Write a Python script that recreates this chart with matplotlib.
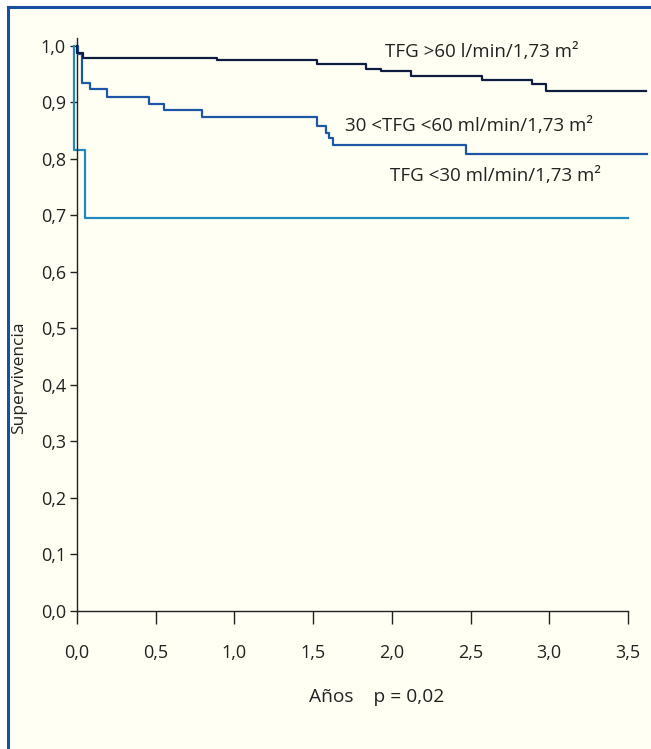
import numpy as np
import matplotlib.pyplot as plt
from matplotlib.patches import Rectangle

plt.rcParams['font.family'] = ['Open Sans', 'DejaVu Sans']

# Kaplan-Meier steps (years, survival)
t_high = [0.0, 0.0, 0.036, 0.888, 1.523, 1.834, 1.929, 2.122, 2.571, 2.891, 2.978, 3.614]
s_high = [1.0, 0.987, 0.979, 0.975, 0.968, 0.959, 0.955, 0.947, 0.940, 0.933, 0.921, 0.921]

t_mid = [0.0, 0.005, 0.034, 0.083, 0.193, 0.457, 0.555, 0.792, 1.527, 1.582, 1.603, 1.625, 2.471, 3.62]
s_mid = [1.0, 0.985, 0.934, 0.924, 0.909, 0.897, 0.887, 0.874, 0.858, 0.846, 0.837, 0.824, 0.808, 0.808]

t_low = [-0.02, -0.02, 0.051, 3.499]
s_low = [1.0, 0.816, 0.696, 0.696]

yticks = [0.0, 0.1, 0.2, 0.3, 0.4, 0.5, 0.6, 0.7, 0.8, 0.9, 1.0]
xticks = [0.0, 0.5, 1.0, 1.5, 2.0, 2.5, 3.0, 3.5]

bg = '#fffff3'
frame = '#1a4ea3'
ink = '#222222'

fig = plt.figure(figsize=(6.51, 7.49), dpi=100)
fig.patch.set_facecolor('white')
fig.add_artist(Rectangle((8/651, -0.01), 1.0, 1 - 7/749 + 0.01, transform=fig.transFigure,
                         facecolor=bg, edgecolor='none', zorder=-10))
fig.add_artist(plt.Line2D([8/651, 8/651], [0, 1 - 7/749], transform=fig.transFigure, color=frame, lw=2.2, zorder=-9))
fig.add_artist(plt.Line2D([8/651, 1], [1 - 7/749, 1 - 7/749], transform=fig.transFigure, color=frame, lw=2.2, zorder=-9))

ax = fig.add_axes([77/651, 138/749, 551/651, (611 - 37.5)/749])
ax.set_facecolor('none')

ax.step(t_high, s_high, where='post', color='#0e1c42', lw=1.6, clip_on=False, zorder=4)
ax.step(t_mid, s_mid, where='post', color='#1d56a6', lw=1.6, clip_on=False, zorder=3)
ax.step(t_low, s_low, where='post', color='#2189c0', lw=1.6, clip_on=False, zorder=2)

ax.set_xlim(0, 3.5)
ax.set_ylim(0, 1.015)
for s in ['top', 'right']:
    ax.spines[s].set_visible(False)
for s in ['left', 'bottom']:
    ax.spines[s].set_color(ink)
    ax.spines[s].set_linewidth(1.0)

ax.set_yticks(yticks)
ax.set_yticklabels([('%.1f' % v).replace('.', ',') for v in yticks])
ax.set_xticks(xticks)
ax.set_xticklabels([('%.1f' % v).replace('.', ',') for v in xticks])
ax.tick_params(axis='y', direction='out', length=5, width=1, colors=ink, labelsize=13, pad=3)
ax.tick_params(axis='x', direction='out', length=9.5, width=1, colors=ink, labelsize=13, pad=14)

ax.set_ylabel('Supervivencia', fontsize=12.5, color=ink)
ax.yaxis.set_label_coords(-0.091, 0.406)

ax.text(1.957, 0.99, 'TFG >60 l/min/1,73 m²', fontsize=13.5, color=ink, va='center', ha='left')
ax.text(1.703, 0.858, '30 <TFG <60 ml/min/1,73 m²', fontsize=13.5, color=ink, va='center', ha='left')
ax.text(1.989, 0.770, 'TFG <30 ml/min/1,73 m²', fontsize=13.5, color=ink, va='center', ha='left')

fig.text(377/651, 1 - 697/749, 'Años    p = 0,02', fontsize=13.8, color=ink, ha='center', va='center')

plt.savefig('out.png', dpi=100, facecolor=fig.get_facecolor())
